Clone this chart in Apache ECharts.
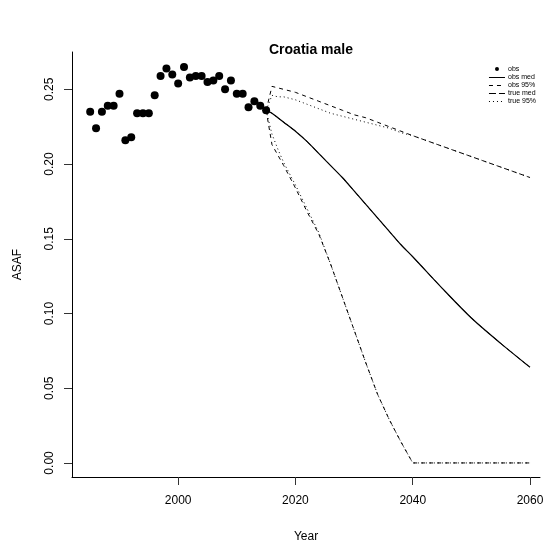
<!DOCTYPE html>
<html>
<head>
<meta charset="utf-8">
<title>Croatia male</title>
<script src="https://cdn.jsdelivr.net/npm/echarts@6/dist/echarts.min.js"></script>
<style>
  html, body { margin: 0; padding: 0; background: #fff; }
  #chart { width: 547px; height: 544px; }
</style>
</head>
<body>
<div id="chart"></div>
<script>
// observed ASAF, 1985-2015
const obsYears = [1985, 1986, 1987, 1988, 1989, 1990, 1991, 1992, 1993, 1994, 1995, 1996,
  1997, 1998, 1999, 2000, 2001, 2002, 2003, 2004, 2005, 2006, 2007, 2008, 2009, 2010,
  2011, 2012, 2013, 2014, 2015]
const obsValues = [0.235, 0.224, 0.235, 0.239, 0.239, 0.247, 0.216, 0.218, 0.234, 0.234, 0.234, 0.246,
  0.259, 0.264, 0.260, 0.254, 0.265, 0.258, 0.259, 0.259, 0.255, 0.256, 0.259, 0.250, 0.256, 0.247,
  0.247, 0.238, 0.242, 0.239, 0.236]

// projections
const projYears = [2015, 2016, 2017, 2018, 2020, 2022, 2024, 2026, 2028, 2030, 2032, 2034,
  2036, 2038, 2040, 2045, 2050, 2055, 2060]
const obsMed = [0.236, 0.234, 0.231, 0.228, 0.222, 0.215, 0.207, 0.199, 0.191, 0.182, 0.173, 0.164,
  0.155, 0.146, 0.138, 0.117, 0.097, 0.080, 0.064]
const obsUpper = [0.236, 0.252, 0.251, 0.250, 0.248, 0.245, 0.242, 0.239, 0.236, 0.233, 0.231, 0.228,
  0.225, 0.222, 0.219, 0.212, 0.205, 0.198, 0.191]
const obsLower = [0.236, 0.213, 0.206, 0.199, 0.184, 0.168, 0.153, 0.133, 0.111, 0.089, 0.067, 0.046,
  0.029, 0.014, 0.000, 0.000, 0.000, 0.000, 0.000]
const trueMed = [0.236, 0.234, 0.231, 0.228, 0.222, 0.215, 0.207, 0.199, 0.191, 0.182, 0.173, 0.164,
  0.155, 0.146, 0.138, 0.117, 0.097, 0.080, 0.064]
const trueUpper = [0.236, 0.246, 0.245, 0.245, 0.243, 0.240, 0.237, 0.234, 0.232, 0.230, 0.228, 0.226,
  0.224, 0.221, 0.219, 0.212, 0.205, 0.198, 0.191]
const trueLower = [0.236, 0.220, 0.210, 0.201, 0.186, 0.170, 0.154, 0.133, 0.111, 0.089, 0.067, 0.046,
  0.029, 0.014, 0.000, 0.000, 0.000, 0.000, 0.000]

const xTicks = [2000, 2020, 2040, 2060]
const yTicks = [0, 0.05, 0.10, 0.15, 0.20, 0.25]

const font = 'Liberation Sans, Arial, Helvetica, sans-serif'
const pairs = (xs, ys) => xs.map((x, i) => [x, ys[i]])

const lineSeries = (name, values, type, width, smooth = false) => ({
  name,
  type: 'line',
  data: pairs(projYears, values),
  symbol: 'none',
  smooth,
  lineStyle: { color: '#000', width, type },
  itemStyle: { color: '#000' },
  silent: true
})

const chart = echarts.init(document.getElementById('chart'), null, { renderer: 'canvas' })

chart.setOption({
  animation: false,
  backgroundColor: '#fff',
  textStyle: { fontFamily: font },
  title: {
    text: 'Croatia male',
    left: 306,
    top: 38,
    textAlign: 'center',
    textStyle: { fontFamily: font, fontSize: 14, fontWeight: 'bold', color: '#000' }
  },
  grid: { left: 72, right: 7, top: 52, bottom: 67, containLabel: false, outerBoundsMode: 'none' },
  legend: {
    orient: 'vertical',
    right: 6,
    top: 60,
    itemWidth: 16,
    itemHeight: 8,
    itemGap: 1,
    align: 'left',
    selectedMode: false,
    textStyle: { fontFamily: font, fontSize: 7, color: '#000', padding: [0, 0, 0, -2] },
    itemStyle: { opacity: 0 },
    lineStyle: { width: 1 },
    data: [
      { name: 'obs', icon: 'path://M0,0M16,0M16,8M0,8M8,4m-2,0a2,2 0 1,0 4,0a2,2 0 1,0 -4,0z', itemStyle: { opacity: 1, color: '#000' } },
      { name: 'obs med' },
      { name: 'obs 95%' },
      { name: 'true med' },
      { name: 'true 95%' }
    ]
  },
  xAxis: {
    type: 'value',
    min: 1981.9,
    max: 2061.7,
    name: 'Year',
    nameLocation: 'middle',
    nameGap: 54,
    nameTextStyle: { fontFamily: font, fontSize: 12, color: '#000' },
    axisLine: { show: true, onZero: false, lineStyle: { color: '#000', width: 1 } },
    axisTick: { show: true, length: 8, customValues: xTicks, lineStyle: { color: '#333' } },
    axisLabel: {
      customValues: xTicks,
      margin: 18,
      fontSize: 12,
      color: '#000',
      fontFamily: font,
      formatter: v => String(v)
    },
    splitLine: { show: false }
  },
  yAxis: {
    type: 'value',
    min: -0.0094,
    max: 0.275,
    name: 'ASAF',
    nameLocation: 'middle',
    nameGap: 48,
    nameRotate: 90,
    nameTextStyle: { fontFamily: font, fontSize: 12, color: '#000' },
    axisLine: { show: true, onZero: false, lineStyle: { color: '#000', width: 1 } },
    axisTick: { show: true, length: 8, customValues: yTicks, lineStyle: { color: '#333' } },
    axisLabel: {
      customValues: yTicks,
      rotate: 90,
      margin: 16,
      fontSize: 12,
      color: '#000',
      fontFamily: font,
      formatter: v => v.toFixed(2)
    },
    splitLine: { show: false }
  },
  series: [
    {
      name: 'obs',
      type: 'scatter',
      data: pairs(obsYears, obsValues),
      symbol: 'circle',
      symbolSize: 8,
      itemStyle: { color: '#000', opacity: 1 },
      silent: true
    },
    lineSeries('obs med', obsMed, 'solid', 1.2, 0.3),
    lineSeries('obs 95%', obsUpper, [4, 4], 1),
    lineSeries('true med', trueMed, [7, 3], 1, 0.3),
    lineSeries('true 95%', trueUpper, [1, 3], 1),
    lineSeries('obs 95%', obsLower, [4, 4], 1),
    lineSeries('true 95%', trueLower, [1, 3], 1)
  ]
})
</script>
</body>
</html>
